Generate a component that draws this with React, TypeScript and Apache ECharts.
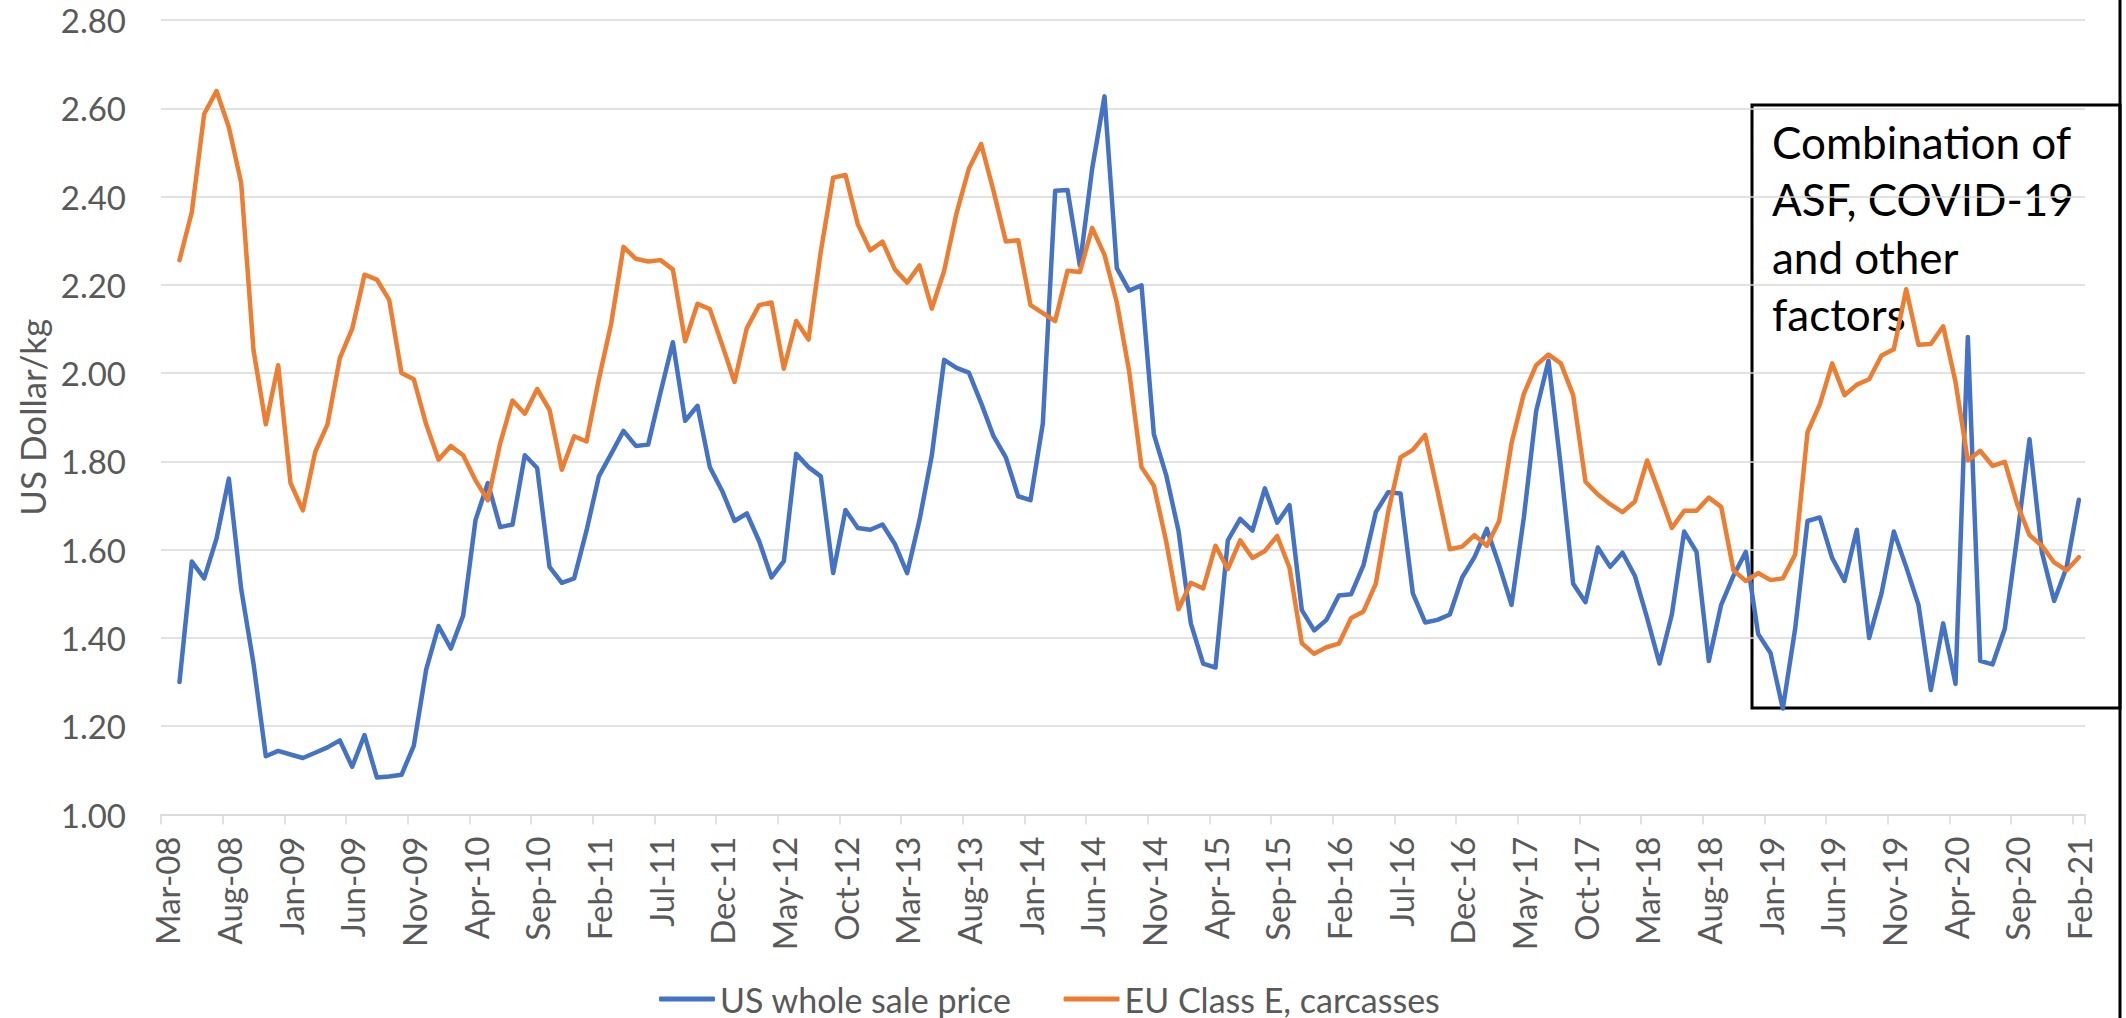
import React, { useEffect, useRef } from "react";
import * as echarts from "echarts";

const MONTHS = ["Jan", "Feb", "Mar", "Apr", "May", "Jun", "Jul", "Aug", "Sep", "Oct", "Nov", "Dec"];
// Monthly categories Mar-08 .. Feb-21
const categories: string[] = [];
for (let y = 2008; y <= 2021; y++) {
  for (let m = 0; m < 12; m++) {
    if (y === 2008 && m < 2) continue;
    if (y === 2021 && m > 1) continue;
    categories.push(`${MONTHS[m]}-${String(y % 100).padStart(2, "0")}`);
  }
}

const usWholesale = [
  null,
  1.300, 1.573, 1.535, 1.625, 1.761, 1.511, 1.342, 1.132, 1.144, 1.136,
  1.128, 1.140, 1.152, 1.168, 1.108, 1.180, 1.084, 1.086, 1.090, 1.156,
  1.328, 1.427, 1.376, 1.451, 1.667, 1.751, 1.651, 1.657, 1.814, 1.785,
  1.561, 1.525, 1.535, 1.643, 1.766, 1.817, 1.869, 1.835, 1.838, 1.956,
  2.070, 1.892, 1.926, 1.787, 1.733, 1.665, 1.682, 1.619, 1.537, 1.574,
  1.817, 1.787, 1.766, 1.547, 1.690, 1.649, 1.645, 1.657, 1.613, 1.547,
  1.667, 1.814, 2.030, 2.012, 2.001, 1.932, 1.857, 1.809, 1.721, 1.712,
  1.886, 2.413, 2.415, 2.244, 2.463, 2.627, 2.238, 2.187, 2.199, 1.862,
  1.769, 1.643, 1.433, 1.342, 1.333, 1.621, 1.670, 1.643, 1.739, 1.661,
  1.701, 1.463, 1.417, 1.441, 1.496, 1.499, 1.565, 1.685, 1.730, 1.727,
  1.501, 1.435, 1.441, 1.453, 1.537, 1.583, 1.647, 1.565, 1.475, 1.673,
  1.914, 2.028, 1.787, 1.523, 1.481, 1.605, 1.561, 1.593, 1.541, 1.445,
  1.342, 1.453, 1.641, 1.595, 1.348, 1.475, 1.541, 1.595, 1.409, 1.366,
  1.240, 1.421, 1.665, 1.673, 1.581, 1.529, 1.645, 1.400, 1.501, 1.641,
  1.561, 1.475, 1.282, 1.433, 1.296, 2.082, 1.348, 1.340, 1.421, 1.629,
  1.850, 1.595, 1.484, 1.559, 1.713,
];

const euClassE = [
  null,
  2.256, 2.365, 2.587, 2.639, 2.557, 2.431, 2.052, 1.884, 2.018, 1.751,
  1.689, 1.821, 1.884, 2.034, 2.100, 2.223, 2.212, 2.166, 2.000, 1.986,
  1.884, 1.804, 1.835, 1.814, 1.757, 1.712, 1.841, 1.938, 1.908, 1.964,
  1.917, 1.781, 1.857, 1.845, 1.986, 2.112, 2.286, 2.259, 2.253, 2.256,
  2.235, 2.072, 2.157, 2.145, 2.064, 1.980, 2.102, 2.154, 2.160, 2.010,
  2.118, 2.076, 2.276, 2.443, 2.449, 2.337, 2.278, 2.298, 2.235, 2.205,
  2.244, 2.146, 2.232, 2.362, 2.463, 2.519, 2.413, 2.298, 2.301, 2.154,
  2.136, 2.118, 2.232, 2.229, 2.329, 2.268, 2.160, 2.004, 1.787, 1.745,
  1.619, 1.465, 1.525, 1.512, 1.609, 1.556, 1.621, 1.581, 1.597, 1.631,
  1.559, 1.388, 1.364, 1.379, 1.387, 1.445, 1.460, 1.523, 1.685, 1.809,
  1.826, 1.860, 1.733, 1.601, 1.607, 1.633, 1.609, 1.665, 1.841, 1.953,
  2.018, 2.042, 2.022, 1.950, 1.754, 1.725, 1.703, 1.685, 1.709, 1.802,
  1.727, 1.649, 1.688, 1.688, 1.718, 1.697, 1.553, 1.529, 1.547, 1.531,
  1.535, 1.589, 1.866, 1.929, 2.022, 1.950, 1.974, 1.986, 2.040, 2.054,
  2.190, 2.064, 2.066, 2.106, 1.980, 1.802, 1.824, 1.790, 1.799, 1.703,
  1.633, 1.609, 1.571, 1.553, 1.583,
];

const seriesNames = ["US whole sale price", "EU Class E, carcasses"];
const seriesColors = ["#4472C4", "#ED7D31"];
const annotationText = "Combination of\nASF, COVID-19\nand other\nfactors";

const FONT = "Lato, 'Open Sans', sans-serif";
const GRAY = "#595959";
const GRID = "#d9d9d9";

export default function App() {
  const ref = useRef<HTMLDivElement>(null);
  useEffect(() => {
    if (!ref.current) return;
    const chart = echarts.init(ref.current, null, { renderer: "svg" });
    chart.setOption({
      animation: false,
      backgroundColor: "#ffffff",
      grid: { left: 161, right: 41, top: 20, bottom: 203.5 },
      legend: {
        left: 654,
        top: 977,
        icon: "roundRect",
        itemWidth: 56,
        itemHeight: 5,
        itemGap: 52,
        textStyle: { fontSize: 34, color: GRAY, fontFamily: FONT },
        data: seriesNames,
      },
      xAxis: {
        type: "category",
        data: categories,
        boundaryGap: true,
        axisLine: { lineStyle: { color: GRID, width: 1.5 } },
        axisTick: { show: true, interval: 4, length: 10, lineStyle: { color: GRID, width: 1.5 } },
        axisLabel: {
          interval: 4,
          rotate: 90,
          margin: 22,
          fontSize: 33,
          color: GRAY,
          fontFamily: FONT,
        },
        splitLine: { show: false },
      },
      yAxis: {
        type: "value",
        min: 1.0,
        max: 2.8,
        interval: 0.2,
        axisLine: { show: false },
        axisTick: { show: false },
        axisLabel: {
          margin: 35,
          fontSize: 33,
          color: GRAY,
          fontFamily: FONT,
          formatter: (v: number) => v.toFixed(2),
        },
        splitLine: { lineStyle: { color: GRID, width: 1.5 } },
        name: "US Dollar/kg",
        nameLocation: "middle",
        nameGap: 112,
        nameTextStyle: { fontSize: 35, color: GRAY, fontFamily: FONT },
      },
      series: [
        {
          name: seriesNames[0],
          type: "line",
          data: usWholesale,
          showSymbol: false,
          symbol: "none",
          color: seriesColors[0],
          lineStyle: { width: 4.5, color: seriesColors[0], join: "round", cap: "round" },
        },
        {
          name: seriesNames[1],
          type: "line",
          data: euClassE,
          showSymbol: false,
          symbol: "none",
          color: seriesColors[1],
          lineStyle: { width: 4.5, color: seriesColors[1], join: "round", cap: "round" },
        },
      ],
      graphic: [
        {
          type: "rect",
          z: 0,
          shape: { x: 1752, y: 105, width: 368, height: 603 },
          style: { fill: "rgba(0,0,0,0)", stroke: "#000000", lineWidth: 3 },
        },
        {
          type: "line",
          z: 0,
          shape: { x1: 2120, y1: 0, x2: 2120, y2: 1018 },
          style: { stroke: "#000000", lineWidth: 3 },
        },
        {
          type: "text",
          z: 0,
          x: 1772,
          y: 113,
          style: {
            text: annotationText,
            fontSize: 44,
            lineHeight: 57.5,
            fill: "#000000",
            fontFamily: FONT,
            verticalAlign: "top",
            align: "left",
          },
        },
      ],
    });
    return () => chart.dispose();
  }, []);
  return (
    <div
      ref={ref}
      style={{ position: "fixed", left: 0, top: 0, width: 2126, height: 1018, background: "#fff" }}
    />
  );
}
